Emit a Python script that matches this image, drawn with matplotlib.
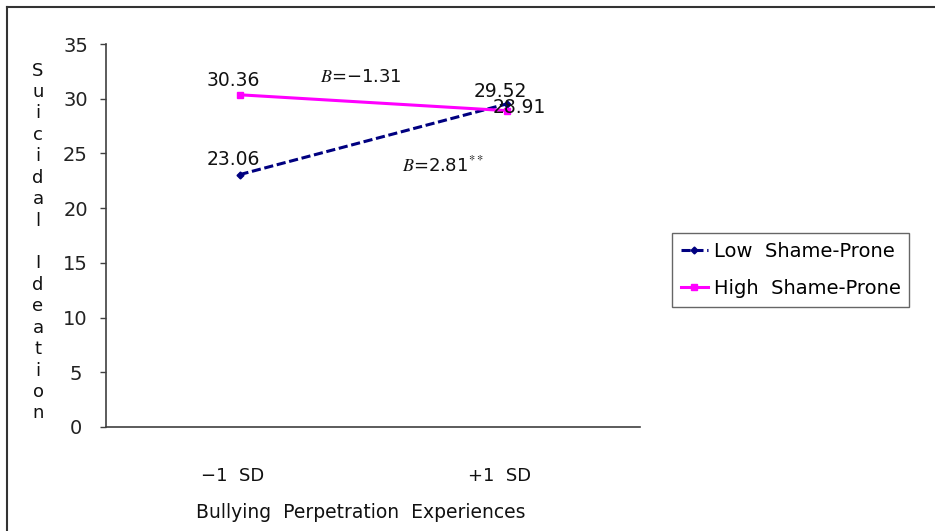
import numpy as np
import matplotlib
matplotlib.use('Agg')
import matplotlib.pyplot as plt
from matplotlib.lines import Line2D

plt.rcParams['font.family'] = ['DejaVu Sans']
plt.rcParams['mathtext.fontset'] = 'stix'

# données
categories = ['\u22121  SD', '+1  SD']
low_shame = [23.06, 29.52]
high_shame = [30.36, 28.91]
y_ticks = [0, 5, 10, 15, 20, 25, 30, 35]

W, H = 935, 531
fig = plt.figure(figsize=(W / 100, H / 100), dpi=100)
ax = fig.add_axes([106 / W, 1 - 427 / H, (640 - 106) / W, (427 - 44) / H])

x = np.arange(len(categories))
ax.plot(x, low_shame, color='#000080', linestyle=(0, (3, 1.2)), linewidth=2.2,
        marker='D', markersize=3.5, label='Low  Shame-Prone')
ax.plot(x, high_shame, color='#FF00FF', linestyle='-', linewidth=2.2,
        marker='s', markersize=4, label='High  Shame-Prone')

# étiquettes des valeurs
fs = 13.5
for i, v in enumerate(low_shame):
    off = (-6, 15) if i == 0 else (-6, 12)
    ax.annotate(f'{v:.2f}', (x[i], v), xytext=off, textcoords='offset pixels',
                ha='center', va='center', fontsize=fs, color='#111111')
for i, v in enumerate(high_shame):
    off = (-6, 14) if i == 0 else (13, 3)
    ax.annotate(f'{v:.2f}', (x[i], v), xytext=off, textcoords='offset pixels',
                ha='center', va='center', fontsize=fs, color='#111111')

ax.text(0.455, 32.0, '$B$=\u22121.31', ha='center', va='center', fontsize=13, color='#111111')
ax.text(0.762, 23.9, '$B$=2.81$^{**}$', ha='center', va='center', fontsize=13, color='#111111')

ax.set_xlim(-0.5, 1.5)
ax.set_ylim(0, 35)
ax.set_yticks(y_ticks)
ax.set_yticklabels([str(t) for t in y_ticks], ha='center')
ax.set_xticks([])
for s in ['top', 'right']:
    ax.spines[s].set_visible(False)
for s in ['left', 'bottom']:
    ax.spines[s].set_color('#404040')
    ax.spines[s].set_linewidth(1.2)
ax.tick_params(axis='y', direction='out', length=4, width=1, color='#404040',
               pad=18, labelsize=14, labelcolor='#222222')

# x tick labels et titre de l'axe
for i, c in enumerate(categories):
    px = 106 + (i + 0.5) * 267 - 7
    fig.text(px / W, 1 - 476 / H, c, ha='center', va='center', fontsize=13, color='#111111')
fig.text(361 / W, 1 - 512 / H, 'Bullying  Perpetration  Experiences',
         ha='center', va='center', fontsize=13.5, color='#111111')

# titre vertical de l'axe y
fig.text(38 / W, 1 - 242 / H, '\n'.join(list('Suicidal Ideation')), ha='center', va='center',
         fontsize=13, linespacing=1.245, color='#111111')

# légende
fig.legend(loc='center left', bbox_to_anchor=(672 / W, 1 - 270 / H), fontsize=14,
           frameon=True, fancybox=False, edgecolor='#404040', handlelength=1.4,
           handletextpad=0.3, labelspacing=0.95, borderpad=0.45, borderaxespad=0)

# cadre extérieur
fig.add_artist(Line2D([7 / W, 7 / W], [0, 1 - 7 / H], color='#333333', linewidth=1.5))
fig.add_artist(Line2D([7 / W, 1], [1 - 7 / H, 1 - 7 / H], color='#333333', linewidth=1.5))

fig.savefig('out.png', dpi=100)
